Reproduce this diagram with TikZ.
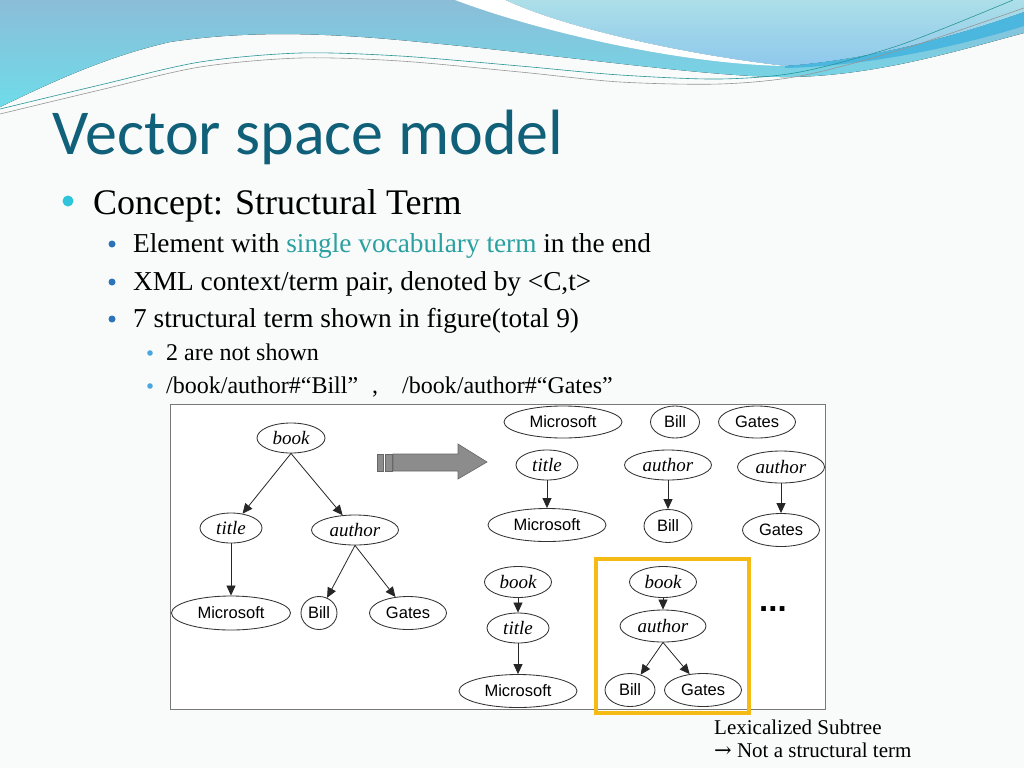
\documentclass[tikz,border=0pt]{standalone}
\usepackage{fontspec}
\setmainfont{Liberation Serif}
\newfontfamily\titlefont{Carlito}
\newfontfamily\sansf{Liberation Sans}
\newfontfamily\arrowfont{DejaVu Serif}
\usetikzlibrary{shapes.geometric,arrows.meta}
\definecolor{bgc}{RGB}{249,250,250}
\definecolor{cyantop}{RGB}{139,189,216}
\definecolor{cyanbot}{RGB}{110,220,233}
\definecolor{righttop}{RGB}{172,223,232}
\definecolor{rightbot}{RGB}{142,200,236}
\definecolor{darkband}{RGB}{75,182,222}
\definecolor{titlec}{RGB}{15,96,120}
\definecolor{hl}{RGB}{42,160,160}
\definecolor{bulA}{RGB}{46,197,218}
\definecolor{bulB}{RGB}{44,116,186}
\definecolor{bulC}{RGB}{73,166,222}
\definecolor{boxc}{RGB}{120,120,120}
\definecolor{yel}{RGB}{245,186,20}
\definecolor{arrg}{RGB}{140,140,140}
\definecolor{linet}{RGB}{40,150,150}
\definecolor{lineg}{RGB}{150,150,150}
\begin{document}
\begin{tikzpicture}[x=1pt,y=-1pt,
  ell/.style={ellipse, draw=black!80, line width=0.85pt, inner sep=0pt, fill=white},
  itl/.style={ell, font=\fontsize{19}{19}\selectfont\itshape},
  snl/.style={ell, font=\sansf\fontsize{16.5}{16.5}\selectfont},
  arr/.style={-{Triangle[length=10pt,width=9pt]}, line width=0.8pt, draw=black!85},
  l1/.style={anchor=base west, inner sep=0pt, font=\fontsize{36}{36}\selectfont},
  l2/.style={anchor=base west, inner sep=0pt, font=\fontsize{27.3}{27.3}\selectfont},
  l3/.style={anchor=base west, inner sep=0pt, font=\fontsize{24}{24}\selectfont},
  note/.style={anchor=base west, inner sep=0pt, font=\fontsize{21}{21}\selectfont}]
\useasboundingbox (0,0) rectangle (1024,768);
\fill[bgc] (0,0) rectangle (1024,768);
% waves
\fill[top color=cyantop, bottom color=cyanbot] (0,0) -- (1024,0) -- (1024,33)
  .. controls (960,50) and (870,78) .. (780,77)
  .. controls (700,76) and (560,55) .. (420,42)
  .. controls (330,33) and (250,30) .. (170,42)
  .. controls (100,58) and (40,88) .. (0,107) -- cycle;
\fill[top color=righttop, bottom color=rightbot] (505,0)
  .. controls (570,30) and (690,55) .. (785,66)
  .. controls (870,60) and (960,35) .. (1024,12) -- (1024,0) -- cycle;
\fill[darkband] (785,66) .. controls (870,60) and (960,35) .. (1024,12)
  -- (1024,26) .. controls (960,46) and (870,66) .. (785,68) -- cycle;
\fill[white] (455,0) .. controls (540,32) and (680,64) .. (785,66)
  .. controls (690,55) and (570,30) .. (505,0) -- cycle;
\draw[linet, line width=0.6pt] plot[smooth] coordinates {(0,109) (100,85) (200,62) (300,53) (400,56) (520,66) (620,75) (720,79) (800,72) (900,45) (1013,0)};
\draw[lineg, line width=0.6pt] plot[smooth] coordinates {(0,114) (100,90) (200,67) (300,58) (400,61) (520,72) (620,82) (720,84) (800,76) (900,50) (1024,8)};
% title
\node[anchor=base west, inner sep=0pt, text=titlec, font=\titlefont\fontsize{64}{64}\selectfont] (ttl) at (52,154) {Vector space model};
% bullets
\fill[bulA] (68,201) circle (5.5);
\node[l1] (t1) at (93,214) {Concept: Structural Term};
\fill[bulB] (112,244) circle (3.5);
\node[l2] (t2) at (133,252) {Element with \textcolor{hl}{single vocabulary term} in the end};
\fill[bulB] (112,282) circle (3.5);
\node[l2] (t3) at (133,290) {XML context/term pair, denoted by <C,t>};
\fill[bulB] (112,319) circle (3.5);
\node[l2] (t4) at (133,327) {7 structural term shown in figure(total 9)};
\fill[bulC] (150,353) circle (2.8);
\node[l3] (t5) at (166,360) {2 are not shown};
\fill[bulC] (150,386) circle (2.8);
\node[l3] (t6) at (166,393) {/book/author\#“Bill”\hspace{14pt},\hspace{24pt}/book/author\#“Gates”};
% figure box
\draw[boxc, fill=white, line width=0.9pt] (170,404) rectangle (825,709);
% left tree
\node[itl, minimum width=68pt, minimum height=30pt] (Lbook) at (291,438) {book};
\node[itl, minimum width=62pt, minimum height=30pt] (Ltitle) at (231,528) {title};
\node[itl, minimum width=87pt, minimum height=30pt] (Lauthor) at (355,530) {author};
\node[snl, minimum width=119pt, minimum height=34pt] (Lms) at (231,613) {Microsoft};
\node[snl, minimum width=36pt, minimum height=33pt] (Lbill) at (319,613) {Bill};
\node[snl, minimum width=77pt, minimum height=33pt] (Lgates) at (408,613) {Gates};
\draw[arr] (Lbook.south) -- (Ltitle);
\draw[arr] (Lbook.south) -- (Lauthor);
\draw[arr] (Ltitle.south) -- (Lms);
\draw[arr] (Lauthor.south) -- (Lbill);
\draw[arr] (Lauthor.south) -- (Lgates);
% big arrow
\draw[fill=arrg, draw=black!60, line width=0.6pt] (377,454) rectangle (383,471);
\draw[fill=arrg, draw=black!60, line width=0.6pt] (385,454) rectangle (392,471);
\draw[fill=arrg, draw=black!60, line width=0.6pt] (393,454) -- (458,454) -- (458,444) -- (487,462) -- (458,479) -- (458,471) -- (393,471) -- cycle;
% right top
\node[snl, minimum width=118pt, minimum height=32pt] (Rms) at (563,422) {Microsoft};
\node[snl, minimum width=49pt, minimum height=32pt] (Rbill) at (675,422) {Bill};
\node[snl, minimum width=77pt, minimum height=32pt] (Rgates) at (757,422) {Gates};
\node[itl, minimum width=62pt, minimum height=30pt] (Rtitle) at (547,465) {title};
\node[snl, minimum width=118pt, minimum height=33pt] (Rms2) at (547,525) {Microsoft};
\node[itl, minimum width=87pt, minimum height=30pt] (Rauthor) at (668,465) {author};
\node[snl, minimum width=48pt, minimum height=33pt] (Rbill2) at (668,526) {Bill};
\node[itl, minimum width=87pt, minimum height=32pt] (Rauthor3) at (781,467) {author};
\node[snl, minimum width=77pt, minimum height=33pt] (Rgates3) at (781,530) {Gates};
\draw[arr] (Rtitle) -- (Rms2);
\draw[arr] (Rauthor) -- (Rbill2);
\draw[arr] (Rauthor3) -- (Rgates3);
% bottom
\node[itl, minimum width=67pt, minimum height=31pt] (Bbook) at (518,582) {book};
\node[itl, minimum width=62pt, minimum height=30pt] (Btitle) at (518,628) {title};
\node[snl, minimum width=118pt, minimum height=33pt] (Bms) at (518,691) {Microsoft};
\draw[arr] (Bbook) -- (Btitle);
\draw[arr] (Btitle) -- (Bms);
\node[itl, minimum width=67pt, minimum height=31pt] (Ybook) at (663,582) {book};
\node[itl, minimum width=86pt, minimum height=32pt] (Yauthor) at (663,626) {author};
\node[snl, minimum width=50pt, minimum height=33pt] (Ybill) at (630,690) {Bill};
\node[snl, minimum width=77pt, minimum height=33pt] (Ygates) at (703,690) {Gates};
\draw[arr] (Ybook) -- (Yauthor);
\draw[arr] (Yauthor.south) -- (Ybill);
\draw[arr] (Yauthor.south) -- (Ygates);
\draw[yel, line width=3.2pt] (596,559) rectangle (749,713);
\node[anchor=base west, inner sep=0pt, font=\sansf\bfseries\fontsize{33}{33}\selectfont] (dots) at (759,611) {...};
% note
\node[note] (n1) at (714,734) {Lexicalized Subtree};
\node[note] (n2) at (714,757) {{\arrowfont →} Not a structural term};
\end{tikzpicture}
\end{document}
